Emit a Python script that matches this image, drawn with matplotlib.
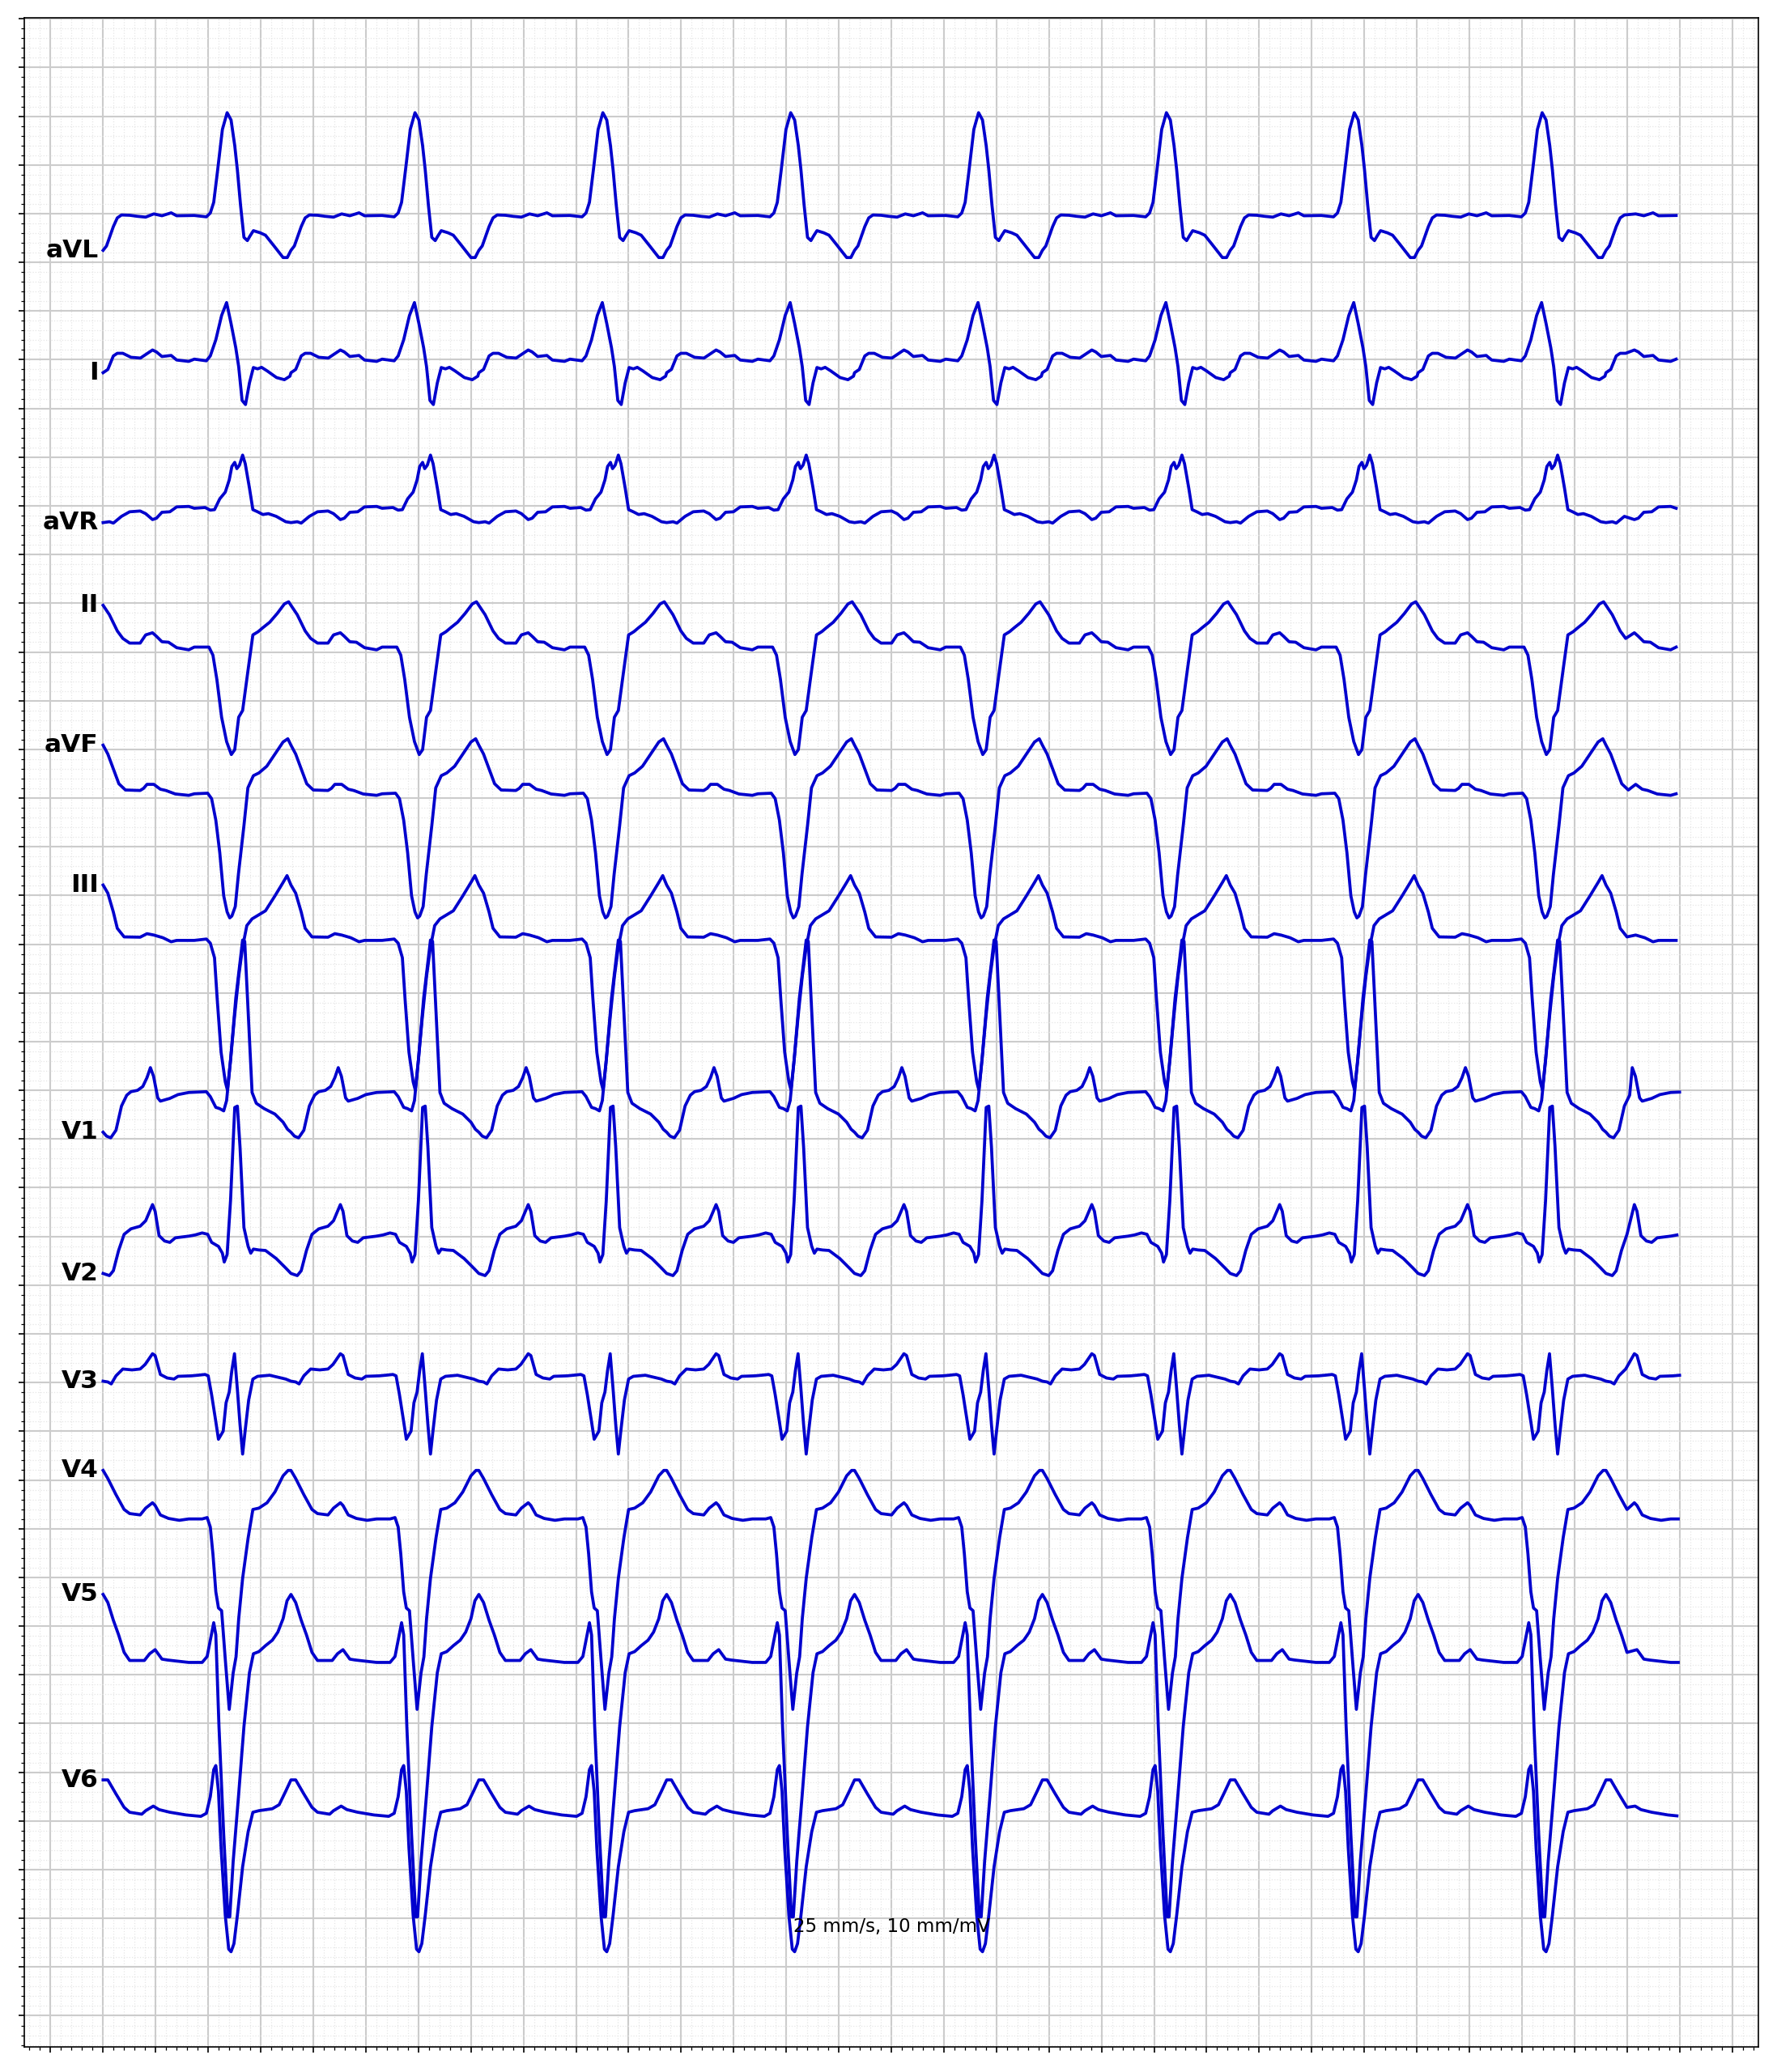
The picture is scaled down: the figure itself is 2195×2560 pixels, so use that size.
import numpy as np
import matplotlib
matplotlib.use("Agg")
import matplotlib.pyplot as plt
from matplotlib.ticker import MultipleLocator, NullFormatter

# lead order top to bottom
lead_names = ["aVL", "I", "aVR", "II", "aVF", "III", "V1", "V2", "V3", "V4", "V5", "V6"]

# start of each cardiac cycle (s); last one is cut off by the record end
beat_starts = [0.0, 0.715, 1.43, 2.145, 2.86, 3.575, 4.29, 5.005, 5.72]
record_end = 6.0
# the last P wave comes early: this stretch of diastole (s into the cycle) is missing there
last_pause_cut = (0.10, 0.18)

# one cycle per lead: time from cycle start (s), amplitude (mV)
avl_t = [0.000, 0.013, 0.039, 0.054, 0.070, 0.101, 0.131, 0.162, 0.193, 0.224, 0.259, 0.280,
         0.347, 0.393, 0.408, 0.421, 0.436, 0.454, 0.472, 0.487, 0.501, 0.511, 0.523, 0.536,
         0.549, 0.559, 0.572, 0.598, 0.618, 0.649, 0.685, 0.701]
avl_mv = [-0.377, -0.332, -0.133, -0.044, -0.014, -0.017, -0.028, -0.036, -0.003, -0.022, 0.008, -0.022,
          -0.019, -0.033, 0.006, 0.116, 0.449, 0.864, 1.036, 0.961, 0.698, 0.449, 0.089, -0.244,
          -0.277, -0.230, -0.175, -0.197, -0.222, -0.327, -0.451, -0.451]

i_t = [0.000, 0.018, 0.039, 0.054, 0.075, 0.106, 0.142, 0.162, 0.188, 0.203, 0.224, 0.259,
       0.280, 0.326, 0.347, 0.393, 0.408, 0.429, 0.451, 0.470, 0.487, 0.505, 0.516, 0.529,
       0.542, 0.557, 0.572, 0.588, 0.603, 0.624, 0.660, 0.690, 0.711]
i_mv = [-0.133, -0.100, 0.039, 0.066, 0.066, 0.025, 0.017, 0.053, 0.100, 0.080, 0.033, 0.044,
        -0.003, -0.017, 0.006, -0.011, 0.039, 0.205, 0.454, 0.587, 0.371, 0.122, -0.072, -0.418,
        -0.460, -0.238, -0.080, -0.094, -0.078, -0.114, -0.183, -0.205, -0.169]

avr_t = [0.000, 0.024, 0.039, 0.070, 0.101, 0.141, 0.162, 0.188, 0.203, 0.224, 0.254, 0.280,
         0.326, 0.347, 0.388, 0.408, 0.424, 0.444, 0.465, 0.480, 0.490, 0.501, 0.509, 0.519,
         0.531, 0.541, 0.557, 0.570, 0.588, 0.608, 0.629, 0.659, 0.695]
avr_mv = [-0.172, -0.163, -0.177, -0.108, -0.061, -0.053, -0.080, -0.141, -0.127, -0.066, -0.061, -0.011,
          -0.006, -0.025, -0.017, -0.044, -0.039, 0.072, 0.141, 0.266, 0.404, 0.446, 0.382, 0.418,
          0.521, 0.432, 0.183, -0.039, -0.061, -0.089, -0.080, -0.108, -0.163]

ii_t = [0.000, 0.024, 0.054, 0.075, 0.101, 0.141, 0.162, 0.188, 0.203, 0.224, 0.249, 0.280,
        0.326, 0.347, 0.403, 0.418, 0.433, 0.451, 0.470, 0.488, 0.501, 0.516, 0.531, 0.551,
        0.570, 0.590, 0.608, 0.634, 0.663, 0.690, 0.706]
ii_mv = [0.479, 0.382, 0.216, 0.139, 0.091, 0.091, 0.175, 0.197, 0.161, 0.105, 0.100, 0.044,
         0.022, 0.050, 0.050, -0.033, -0.283, -0.670, -0.920, -1.053, -1.003, -0.670, -0.601, -0.199,
         0.175, 0.208, 0.249, 0.305, 0.396, 0.493, 0.515]

avf_t = [0.000, 0.018, 0.039, 0.060, 0.085, 0.141, 0.154, 0.167, 0.193, 0.218, 0.239, 0.275,
         0.326, 0.347, 0.398, 0.413, 0.429, 0.444, 0.459, 0.472, 0.482, 0.490, 0.503, 0.515,
         0.536, 0.551, 0.572, 0.593, 0.623, 0.654, 0.685, 0.703]
avf_mv = [0.543, 0.452, 0.299, 0.147, 0.083, 0.078, 0.100, 0.141, 0.141, 0.091, 0.078, 0.042,
          0.028, 0.044, 0.050, -0.006, -0.227, -0.560, -1.003, -1.169, -1.230, -1.211, -1.114, -0.781,
          -0.283, 0.105, 0.230, 0.258, 0.327, 0.452, 0.576, 0.609]

iii_t = [0.000, 0.018, 0.039, 0.054, 0.080, 0.141, 0.157, 0.167, 0.193, 0.228, 0.259, 0.280,
         0.347, 0.393, 0.408, 0.424, 0.434, 0.449, 0.465, 0.473, 0.485, 0.500, 0.516, 0.531,
         0.547, 0.567, 0.593, 0.618, 0.654, 0.685, 0.700]
iii_mv = [0.607, 0.524, 0.330, 0.163, 0.075, 0.072, 0.094, 0.108, 0.094, 0.066, 0.025, 0.039,
          0.039, 0.053, 0.011, -0.139, -0.554, -1.108, -1.413, -1.496, -1.191, -0.748, -0.332, -0.028,
          0.191, 0.260, 0.302, 0.343, 0.496, 0.634, 0.704]

v1_t = [0.000, 0.013, 0.029, 0.049, 0.070, 0.090, 0.106, 0.131, 0.151, 0.167, 0.180, 0.192,
        0.208, 0.218, 0.254, 0.285, 0.326, 0.360, 0.393, 0.408, 0.429, 0.444, 0.459, 0.470, 0.485,
        0.505, 0.531, 0.539, 0.552, 0.567, 0.583, 0.613, 0.654, 0.685, 0.702]
v1_mv = [-0.430, -0.470, -0.488, -0.410, -0.161, -0.050, -0.014, 0.000, 0.039, 0.130, 0.233, 0.144,
         -0.078, -0.111, -0.083, -0.044, -0.022, -0.018, -0.014, -0.064, -0.175, -0.188, -0.211, -0.105, 0.310,
         0.947, 1.543, 1.529, 0.809, -0.022, -0.133, -0.188, -0.244, -0.327, -0.400]

v2_t = [0.000, 0.024, 0.039, 0.059, 0.080, 0.106, 0.141, 0.162, 0.188, 0.198, 0.213, 0.234,
        0.254, 0.275, 0.326, 0.350, 0.377, 0.398, 0.413, 0.439, 0.454, 0.461, 0.472, 0.485, 0.501,
        0.511, 0.521, 0.536, 0.552, 0.562, 0.572, 0.593, 0.618, 0.659, 0.695]
v2_mv = [-0.380, -0.402, -0.352, -0.144, 0.022, 0.078, 0.105, 0.161, 0.327, 0.258, 0.008, -0.047,
         -0.061, -0.014, 0.003, 0.015, 0.036, 0.022, -0.061, -0.102, -0.172, -0.263, -0.186, 0.368, 1.324,
         1.338, 0.922, 0.091, -0.102, -0.172, -0.130, -0.139, -0.144, -0.227, -0.324]

v3_t = [0.000, 0.018, 0.031, 0.049, 0.075, 0.110, 0.141, 0.160, 0.188, 0.198, 0.218, 0.244,
        0.270, 0.285, 0.336, 0.360, 0.388, 0.400, 0.413, 0.429, 0.439, 0.457, 0.468, 0.480, 0.490,
        0.500, 0.511, 0.521, 0.531, 0.541, 0.554, 0.570, 0.588, 0.634, 0.695]
v3_mv = [0.014, 0.006, -0.014, 0.069, 0.139, 0.130, 0.139, 0.186, 0.296, 0.277, 0.083, 0.047,
         0.036, 0.064, 0.069, 0.075, 0.083, 0.069, -0.125, -0.402, -0.582, -0.499, -0.208, -0.097, 0.125,
         0.296, -0.069, -0.429, -0.734, -0.485, -0.180, 0.036, 0.064, 0.075, 0.036]

v4_t = [0.000, 0.018, 0.049, 0.080, 0.101, 0.141, 0.162, 0.188, 0.198, 0.218, 0.249, 0.290,
        0.326, 0.355, 0.377, 0.396, 0.408, 0.418, 0.429, 0.439, 0.451, 0.465, 0.480, 0.495, 0.506,
        0.516, 0.531, 0.552, 0.570, 0.593, 0.624, 0.654, 0.685, 0.704]
v4_mv = [0.598, 0.515, 0.349, 0.197, 0.155, 0.141, 0.211, 0.266, 0.238, 0.141, 0.105, 0.086,
         0.100, 0.100, 0.100, 0.114, 0.017, -0.260, -0.648, -0.814, -0.842, -1.341, -1.855, -1.481, -1.314,
         -0.927, -0.510, -0.094, 0.197, 0.211, 0.266, 0.377, 0.543, 0.598]

v5_t = [0.000, 0.018, 0.039, 0.059, 0.080, 0.101, 0.157, 0.177, 0.198, 0.224, 0.244, 0.326,
        0.355, 0.377, 0.396, 0.408, 0.421, 0.429, 0.441, 0.459, 0.475, 0.482, 0.495, 0.516, 0.536,
        0.557, 0.572, 0.593, 0.618, 0.644, 0.665, 0.685, 0.700]
v5_mv = [0.825, 0.742, 0.560, 0.410, 0.230, 0.147, 0.147, 0.216, 0.258, 0.161, 0.152, 0.127,
         0.127, 0.127, 0.188, 0.355, 0.535, 0.410, -0.532, -1.640, -2.485, -2.485, -1.917, -1.224, -0.532,
         0.022, 0.216, 0.238, 0.299, 0.355, 0.438, 0.576, 0.760]

v6_t = [0.000, 0.018, 0.049, 0.080, 0.101, 0.147, 0.162, 0.191, 0.213, 0.254, 0.316, 0.350, 0.372,
        0.393, 0.408, 0.421, 0.429, 0.439, 0.449, 0.465, 0.478, 0.487, 0.498, 0.511, 0.531,
        0.552, 0.570, 0.593, 0.644, 0.670, 0.695, 0.708]
v6_mv = [0.421, 0.421, 0.277, 0.139, 0.089, 0.069, 0.105, 0.152, 0.116, 0.089, 0.061, 0.052, 0.047,
         0.078, 0.249, 0.526, 0.568, 0.305, -0.277, -0.970, -1.316, -1.343, -1.260, -0.970, -0.471,
         -0.111, 0.089, 0.105, 0.125, 0.166, 0.305, 0.380]

cycles = {
    "aVL": (avl_t, avl_mv), "I": (i_t, i_mv), "aVR": (avr_t, avr_mv),
    "II": (ii_t, ii_mv), "aVF": (avf_t, avf_mv), "III": (iii_t, iii_mv),
    "V1": (v1_t, v1_mv), "V2": (v2_t, v2_mv), "V3": (v3_t, v3_mv),
    "V4": (v4_t, v4_mv), "V5": (v5_t, v5_mv), "V6": (v6_t, v6_mv),
}


def build_trace(cyc_t, cyc_mv):
    # lay the cycle down at every beat start, stop at the end of the record
    cut_a, cut_b = last_pause_cut
    t_all, v_all = [], []
    for k, start in enumerate(beat_starts):
        last = k == len(beat_starts) - 1
        for tt, vv in zip(cyc_t, cyc_mv):
            if last and cut_a <= tt < cut_b:
                continue
            if last and tt >= cut_b:
                tt = tt - (cut_b - cut_a)
            if start + tt <= record_end + 1e-9:
                t_all.append(start + tt)
                v_all.append(vv)
    return np.array(t_all), np.array(v_all)


fig = plt.figure(figsize=(2195 / 150, 2560 / 150), dpi=150)
ax = fig.add_axes([30 / 2195, 31 / 2560, 2142 / 2195, 2507 / 2560])

row_gap = 1.5  # mV between lead baselines
for i, name in enumerate(lead_names):
    offset = -row_gap * i
    t, v = build_trace(*cycles[name])
    ax.plot(t, v + offset, color="mediumblue", linewidth=1.8)
    ax.text(-0.018, v[0] + offset, name, ha="right", va="center",
            fontsize=15, fontweight="bold")

ax.text(3.0, -17.64, "25 mm/s, 10 mm/mV", ha="center", va="baseline", fontsize=11)

ax.set_xlim(-0.3, 6.3)
ax.set_ylim(-18.82, 2.01)

# ECG paper: big boxes 0.2 s / 0.5 mV, small boxes 0.04 s / 0.1 mV
ax.xaxis.set_major_locator(MultipleLocator(0.2))
ax.xaxis.set_minor_locator(MultipleLocator(0.04))
ax.yaxis.set_major_locator(MultipleLocator(0.5))
ax.yaxis.set_minor_locator(MultipleLocator(0.1))
ax.xaxis.set_major_formatter(NullFormatter())
ax.yaxis.set_major_formatter(NullFormatter())
ax.set_axisbelow(True)
ax.grid(which="major", color="#cccccc", linewidth=1.0)
ax.grid(which="minor", color="#e6e6e6", linestyle=":", linewidth=0.6)

fig.savefig("out.png", dpi=150)
